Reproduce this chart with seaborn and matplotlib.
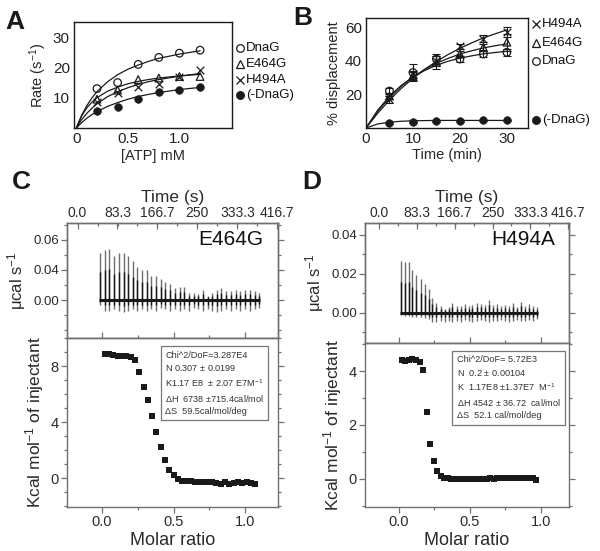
import numpy as np
import pandas as pd
import matplotlib
matplotlib.use('Agg')
import matplotlib.pyplot as plt
from matplotlib.lines import Line2D
from matplotlib.ticker import MultipleLocator, FixedLocator
import seaborn as sns

# ---------------- Panel A data ----------------
atp_mm = [0.2, 0.4, 0.6, 0.8, 1.0, 1.2]
rate_dnag = [13.0, 15.0, 21.0, 23.3, 24.7, 25.7]
rate_e464g = [9.5, 12.5, 16.0, 16.5, 17.0, 17.0]
rate_h494a = [8.5, 11.5, 13.5, 14.5, 17.0, 19.0]
rate_nodnag = [5.5, 7.0, 9.7, 11.8, 12.7, 13.4]
fit_atp = [0, 0.05, 0.1, 0.15, 0.2, 0.3, 0.4, 0.5, 0.6, 0.7, 0.8, 1.0, 1.2]
fitA_dnag = [0, 4.1, 7.3, 9.9, 12.0, 15.2, 17.6, 19.4, 20.8, 22.0, 23.0, 24.4, 25.5]
fitA_e464g = [0, 3.9, 6.6, 8.5, 10.0, 12.1, 13.5, 14.6, 15.4, 16.0, 16.5, 17.2, 17.7]
fitA_h494a = [0, 2.7, 4.8, 6.5, 8.0, 10.3, 12.0, 13.3, 14.4, 15.3, 16.0, 17.1, 18.0]
fitA_nodnag = [0, 1.7, 3.2, 4.4, 5.4, 7.1, 8.4, 9.5, 10.4, 11.1, 11.7, 12.7, 13.4]

# ---------------- Panel B data ----------------
time_min = [5, 10, 15, 20, 25, 30]
disp_h494a = [17, 32, 40, 48.5, 53, 57]
err_h494a = [2, 2, 3, 1.5, 2, 3]
disp_e464g = [19, 31, 39, 44, 48, 51]
err_e464g = [2, 2.5, 4, 2, 2, 5]
disp_dnag = [22, 33, 41, 41, 44, 45]
err_dnag = [2, 5, 3, 2, 1.5, 2]
disp_nodnag = [3, 3.5, 4, 4, 4.5, 4.5]
err_nodnag = [0.5, 0.5, 0.5, 0.5, 0.5, 0.5]
fit_time = [0, 2.5, 5, 7.5, 10, 12.5, 15, 17.5, 20, 22.5, 25, 27.5, 30]
fitB_h494a = [0, 8.8, 16.6, 23.5, 29.5, 34.9, 39.6, 43.7, 47.4, 50.6, 53.6, 56.0, 58.3]
fitB_e464g = [0, 10.0, 18.1, 24.8, 30.3, 34.8, 38.5, 41.4, 44.0, 45.9, 47.6, 48.9, 50.0]
fitB_dnag = [0, 10.6, 18.9, 25.3, 30.3, 34.2, 37.3, 39.7, 41.5, 42.9, 44.1, 44.9, 45.6]
fitB_nodnag = [0, 2.4, 3.5, 4.0, 4.3, 4.4, 4.5, 4.5, 4.5, 4.5, 4.5, 4.5, 4.5]

# ---------------- Panel C data (E464G ITC) ----------------
inj_time_C = [47, 57, 66, 76, 86, 96, 105, 115, 125, 135, 144, 154, 164, 174, 183, 193, 203, 213,
              222, 232, 242, 252, 261, 271, 281, 291, 300, 310, 320, 330, 339, 349, 359, 369, 378]
peak_C = [0.031, 0.033, 0.034, 0.029, 0.031, 0.031, 0.029, 0.026, 0.022, 0.020, 0.020, 0.016,
          0.016, 0.014, 0.012, 0.011, 0.008, 0.009, 0.009, 0.005, 0.005, 0.004, 0.007, 0.003,
          0.005, 0.007, 0.008, 0.006, 0.006, 0.007, 0.006, 0.007, 0.007, 0.006, 0.005]
dip_C = [-0.003, -0.007, -0.007, -0.006, -0.007, -0.008, -0.007, -0.006, -0.007, -0.006, -0.007,
         -0.006, -0.007, -0.005, -0.006, -0.007, -0.006, -0.007, -0.006, -0.007, -0.005, -0.006,
         -0.007, -0.006, -0.007, -0.008, -0.007, -0.006, -0.007, -0.006, -0.007, -0.006, -0.007,
         -0.006, -0.005]
ratio_C = [0.02, 0.05, 0.08, 0.11, 0.14, 0.17, 0.20, 0.23, 0.26, 0.29, 0.32, 0.35, 0.38, 0.41,
           0.44, 0.47, 0.50, 0.53, 0.56, 0.59, 0.62, 0.65, 0.68, 0.71, 0.74, 0.77, 0.80, 0.83,
           0.86, 0.89, 0.92, 0.95, 0.98, 1.01, 1.04, 1.07]
heat_C = [8.85, 8.85, 8.80, 8.75, 8.70, 8.75, 8.65, 8.40, 7.60, 6.50, 5.60, 4.40, 3.30, 2.20,
          1.30, 0.60, 0.20, -0.10, -0.20, -0.20, -0.20, -0.25, -0.25, -0.30, -0.25, -0.30,
          -0.35, -0.40, -0.30, -0.40, -0.35, -0.25, -0.35, -0.30, -0.35, -0.45]

# ---------------- Panel D data (H494A ITC) ----------------
inj_time_D = [48, 57, 66, 74, 83, 92, 101, 110, 118, 127, 136, 145, 154, 162, 171, 180, 189, 198,
              206, 215, 224, 233, 242, 250, 259, 268, 277, 286, 294, 303, 312, 321, 330, 338, 347]
peak_D = [0.0267, 0.0258, 0.026, 0.0222, 0.0193, 0.0173, 0.015, 0.012, 0.0074, 0.0051, 0.0034,
          0.0022, 0.0031, 0.0051, 0.0034, 0.0034, 0.0044, 0.0034, 0.0039, 0.0051, 0.0048, 0.0039,
          0.0065, 0.0039, 0.0044, 0.0034, 0.0039, 0.0034, 0.0051, 0.0031, 0.0056, 0.0034, 0.0044,
          0.0034, 0.0028]
dip_D = [-0.001, -0.0015, -0.0015, -0.002, -0.002, -0.002, -0.0025, -0.003, -0.0045, -0.0045,
         -0.004, -0.0045, -0.004, -0.0045, -0.004, -0.0045, -0.0035, -0.004, -0.0045, -0.004,
         -0.0035, -0.004, -0.0045, -0.004, -0.004, -0.0035, -0.004, -0.0045, -0.004, -0.0035,
         -0.004, -0.004, -0.0035, -0.004, -0.003]
ratio_D = [0.02, 0.045, 0.07, 0.095, 0.12, 0.145, 0.17, 0.195, 0.22, 0.245, 0.27, 0.295, 0.32,
           0.345, 0.37, 0.395, 0.42, 0.445, 0.47, 0.495, 0.52, 0.545, 0.57, 0.595, 0.62, 0.645,
           0.67, 0.695, 0.72, 0.745, 0.77, 0.795, 0.82, 0.845, 0.87, 0.895, 0.92, 0.945, 0.97]
heat_D = [4.40, 4.38, 4.42, 4.45, 4.42, 4.35, 4.05, 2.50, 1.28, 0.65, 0.30, 0.10, 0.05, 0.02,
          0.01, 0.00, 0.01, 0.00, -0.01, 0.00, -0.01, 0.00, 0.01, 0.00, 0.01, 0.02, 0.01, 0.02,
          0.03, 0.02, 0.02, 0.03, 0.02, 0.03, 0.04, 0.03, 0.04, 0.03, -0.05]

time_ticks = [0.0, 83.3, 166.7, 250, 333.3, 416.7]
time_ticklabels = ['0.0', '83.3', '166.7', '250', '333.3', '416.7']
stats_C = ("Chi^2/DoF=3.287E4\nN 0.307 $\\pm$ 0.0199\nK1.17 E8  $\\pm$ 2.07 E7M$^{-1}$\n"
           "ΔH  6738 $\\pm$715.4cal/mol\nΔS  59.5cal/mol/deg")
stats_D = ("Chi^2/DoF= 5.72E3\nN  0.2 $\\pm$ 0.00104\nK  1.17E8 $\\pm$1.37E7  M$^{-1}$\n"
           "ΔH 4542 $\\pm$ 36.72  cal/mol\nΔS  52.1 cal/mol/deg")

# ---------------- style ----------------
sns.set_theme(style='white')
plt.rcParams['font.family'] = ['Liberation Sans', 'DejaVu Sans']
plt.rcParams['mathtext.fontset'] = 'custom'
plt.rcParams['mathtext.rm'] = 'Liberation Sans'
plt.rcParams['mathtext.it'] = 'Liberation Sans:italic'
plt.rcParams['mathtext.bf'] = 'Liberation Sans:bold'

W, H = 600, 551
fig = plt.figure(figsize=(6.0, 5.51), dpi=100)


def box(x0, y0, x1, y1):
    return [x0 / W, 1 - y1 / H, (x1 - x0) / W, (y1 - y0) / H]


def fx(px):
    return px / W


def fy(py):
    return 1 - py / H


def leg_entry(x, y, marker, filled, label, fs=9.5):
    fig.add_artist(Line2D([fx(x)], [fy(y)], transform=fig.transFigure, marker=marker, ms=5.5,
                          mfc='k' if filled else 'none', mec='k', color='k', ls='none', mew=0.9))
    fig.text(fx(x + 6), fy(y), label, ha='left', va='center', fontsize=fs, color='#111')


def open_scatter(ax, x, y, marker, size=30):
    if marker == 'x':
        sns.scatterplot(x=x, y=y, ax=ax, marker='x', color='k', s=size, linewidth=0.9, zorder=3)
    elif marker == 'filled':
        sns.scatterplot(x=x, y=y, ax=ax, marker='o', color='k', s=size, linewidth=0.5,
                        edgecolor='k', zorder=3)
    else:
        sns.scatterplot(x=x, y=y, ax=ax, marker=marker, facecolor='none', edgecolor='k',
                        s=size, linewidth=0.9, zorder=3)


# ---------------- Panel A ----------------
axA = fig.add_axes(box(74, 22, 232, 128))
for fy_ in [fitA_dnag, fitA_e464g, fitA_h494a, fitA_nodnag]:
    sns.lineplot(x=fit_atp, y=fy_, ax=axA, color='k', lw=0.9, sort=False, estimator=None)
open_scatter(axA, atp_mm, rate_dnag, 'o')
open_scatter(axA, atp_mm, rate_e464g, '^')
open_scatter(axA, atp_mm, rate_h494a, 'x')
open_scatter(axA, atp_mm, rate_nodnag, 'filled')
axA.set_xlim(-0.023, 1.51)
axA.set_ylim(0, 35)
axA.set_xticks([0, 0.5, 1.0])
axA.set_xticklabels(['0', '0.5', '1.0'])
axA.set_yticks([10, 20, 30])
axA.tick_params(length=0, labelsize=11, pad=3, colors='#222')
axA.set_xlabel('[ATP] mM', fontsize=10.5, labelpad=2)
axA.set_ylabel('Rate (s$^{-1}$)', fontsize=10.5, labelpad=3)
for s in axA.spines.values():
    s.set_color('k'); s.set_linewidth(1.0)
leg_entry(240, 48, 'o', False, 'DnaG')
leg_entry(240, 64, '^', False, 'E464G')
leg_entry(240, 80, 'x', False, 'H494A')
leg_entry(240, 95, 'o', True, '(-DnaG)')

# ---------------- Panel B ----------------
axB = fig.add_axes(box(366, 18, 528, 128))
for fy_ in [fitB_h494a, fitB_e464g, fitB_dnag, fitB_nodnag]:
    sns.lineplot(x=fit_time, y=fy_, ax=axB, color='k', lw=0.9, sort=False, estimator=None)
for ys, es in [(disp_h494a, err_h494a), (disp_e464g, err_e464g), (disp_dnag, err_dnag),
               (disp_nodnag, err_nodnag)]:
    axB.errorbar(time_min, ys, yerr=es, fmt='none', ecolor='k', elinewidth=0.8, capsize=3,
                 capthick=0.8, zorder=2)
open_scatter(axB, time_min, disp_h494a, 'x')
open_scatter(axB, time_min, disp_e464g, '^')
open_scatter(axB, time_min, disp_dnag, 'o')
open_scatter(axB, time_min, disp_nodnag, 'filled')
axB.set_xlim(0, 34.5)
axB.set_ylim(0, 65.4)
axB.set_xticks([0, 10, 20, 30])
axB.set_yticks([20, 40, 60])
axB.tick_params(length=0, labelsize=11, pad=3, colors='#222')
axB.set_xlabel('Time (min)', fontsize=10.5, labelpad=1)
axB.set_ylabel('% displacement', fontsize=10.5, labelpad=3)
for s in axB.spines.values():
    s.set_color('k'); s.set_linewidth(1.0)
leg_entry(536, 24, 'x', False, 'H494A')
leg_entry(536, 43, '^', False, 'E464G')
leg_entry(536, 61, 'o', False, 'DnaG')
leg_entry(536, 120, 'o', True, '(-DnaG)')

# ---------------- ITC panels ----------------
GRAY = '#707070'
TXT = '#2a2a2a'


def style_itc(ax):
    for s in ax.spines.values():
        s.set_color(GRAY); s.set_linewidth(1.0)
    ax.tick_params(which='both', colors=GRAY, labelcolor=TXT, width=0.9)
    ax.tick_params(which='major', length=4)
    ax.tick_params(which='minor', length=2.5)


def itc_panel(ubox, lbox, xlim, tlim, ulim, uticks, ulabels, llim, lticks, times, peaks, dips,
              ratio, heat, name, stats, sbox_xy):
    axU = fig.add_axes(box(*ubox))
    axL = fig.add_axes(box(*lbox))
    axT = axU.twiny()
    # raw trace
    axT.vlines(times, dips, peaks, color='#6e6e6e', lw=1.0, zorder=2)
    axT.vlines(times, [d * 0.5 for d in dips], [p * 0.6 for p in peaks], color='#151515',
               lw=1.0, zorder=3)
    axT.plot([times[0] - 2, times[-1] + 3], [0, 0], color='k', lw=2.2, zorder=4,
             solid_capstyle='butt')
    axT.set_xlim(*tlim)
    axU.set_xlim(*xlim)
    axU.set_ylim(*ulim)
    axT.set_xticks(time_ticks)
    axT.set_xticklabels(time_ticklabels)
    axT.xaxis.set_minor_locator(MultipleLocator(41.67))
    axT.set_xlabel('Time (s)', fontsize=12.5, labelpad=3, color=TXT)
    axU.set_yticks(uticks)
    axU.set_yticklabels(ulabels)
    axU.yaxis.set_minor_locator(MultipleLocator(0.01))
    axU.set_xticks([0, 0.5, 1.0])
    axU.xaxis.set_minor_locator(MultipleLocator(0.25))
    axU.set_ylabel('μcal s$^{-1}$', fontsize=12, labelpad=4, color=TXT)
    style_itc(axU); style_itc(axT)
    axU.tick_params(axis='y', which='both', left=True, right=True, direction='out',
                    labelsize=9.5, pad=1.5)
    axU.tick_params(axis='x', which='both', bottom=True, top=False, labelbottom=False,
                    direction='in')
    axT.tick_params(axis='x', which='both', top=True, bottom=False, labeltop=True,
                    labelbottom=False, direction='in', labelsize=10, pad=2)
    axU.text(0.93, 0.86, name, transform=axU.transAxes, ha='right', va='center', fontsize=15,
             color='#111')
    # binding isotherm
    sns.scatterplot(x=ratio, y=heat, ax=axL, marker='s', color='k', s=14, linewidth=0,
                    zorder=3)
    axL.set_xlim(*xlim)
    axL.set_ylim(*llim)
    axL.set_yticks(lticks)
    axL.yaxis.set_minor_locator(MultipleLocator(1))
    axL.set_xticks([0, 0.5, 1.0])
    axL.set_xticklabels(['0.0', '0.5', '1.0'])
    axL.xaxis.set_minor_locator(MultipleLocator(0.25))
    style_itc(axL)
    axL.tick_params(which='both', left=True, right=True, bottom=True, top=False,
                    direction='out', labelsize=10.5, pad=2)
    axL.set_xlabel('Molar ratio', fontsize=13, labelpad=2, color=TXT)
    axL.set_ylabel('Kcal mol$^{-1}$ of injectant', fontsize=12.5, labelpad=3, color=TXT)
    axL.text(sbox_xy[0], sbox_xy[1], stats, transform=axL.transAxes, ha='left', va='top',
             fontsize=6.6, color='#333', linespacing=1.42,
             bbox=dict(boxstyle='square,pad=0.5', fc='white', ec='#777', lw=0.9))
    return axU, axL, axT


itc_panel((67, 223, 278, 338), (67, 338, 278, 507), (-0.245, 1.23), (-22, 418),
          (-0.0253, 0.0513), [0, 0.02, 0.04], ['0.00', '0.04', '0.06'],
          (-2.07, 10.0), [0, 4, 8], inj_time_C, peak_C, dip_C, ratio_C, heat_C,
          'E464G', stats_C, (0.465, 0.925))
itc_panel((365, 223, 569, 343), (365, 343, 569, 507), (-0.24, 1.2), (-30, 418),
          (-0.0154, 0.046), [0, 0.02, 0.04], ['0.00', '0.02', '0.04'],
          (-1.04, 5.04), [0, 2, 4], inj_time_D, peak_D, dip_D, ratio_D, heat_D,
          'H494A', stats_D, (0.45, 0.925))

# panel letters
for lab, x, y in [('A', 15, 22), ('B', 303, 18), ('C', 21, 182), ('D', 312, 182)]:
    fig.text(fx(x), fy(y), lab, fontsize=19, fontweight='bold', ha='center', va='center',
             color='k')

fig.savefig('out.png', dpi=100)
